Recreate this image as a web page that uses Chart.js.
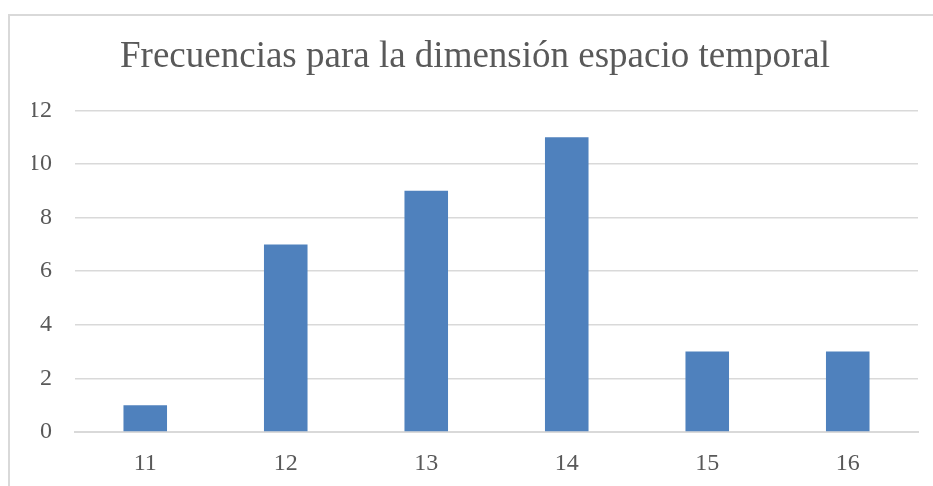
<!DOCTYPE html>
<html>
<head>
<meta charset="utf-8">
<script src="https://cdn.jsdelivr.net/npm/chart.js@4/dist/chart.umd.min.js"></script>
<style>
  html, body { margin: 0; padding: 0; background: #fff; overflow: hidden; }
  #frame {
    position: absolute; left: 8px; top: 14px; width: 960px; height: 520px;
    border: 2px solid #d9d9d9; box-sizing: border-box;
  }
  #wrap { position: absolute; left: 0; top: 0; width: 933px; height: 486px; }
</style>
</head>
<body>
<div id="frame"></div>
<div id="wrap"><canvas id="freqChart"></canvas></div>
<script>
// Frecuencias por puntaje
const categorias = ['11', '12', '13', '14', '15', '16'];
const frecuencias = [1, 7, 9, 11, 3, 3];
const ticksY = [0, 2, 4, 6, 8, 10, 12];

const gris = '#595959';
const lineaGrid = '#d9d9d9';
const serif = '"Liberation Serif", "Times New Roman", serif';

document.addEventListener('DOMContentLoaded', function() {
    const ctx = document.getElementById('freqChart');
    new Chart(ctx, {
        type: 'bar',
        data: {
            labels: categorias,
            datasets: [{
                label: 'Frecuencia',
                data: frecuencias,
                backgroundColor: '#4f81bd',
                categoryPercentage: 1,
                barPercentage: 0.31
            }]
        },
        options: {
            responsive: true,
            maintainAspectRatio: false,
            animation: false,
            // el padding izquierdo desplaza el centro del título hacia la derecha
            layout: { padding: { left: 32, right: 15, top: 0, bottom: 0 } },
            plugins: {
                legend: { display: false },
                tooltip: { enabled: false },
                title: {
                    display: true,
                    text: 'Frecuencias para la dimensión espacio temporal',
                    color: gris,
                    font: { family: serif, size: 37, weight: 'normal' },
                    padding: { top: 35, bottom: 31 }
                }
            },
            scales: {
                y: {
                    min: 0,
                    max: 12,
                    afterBuildTicks: axis => { axis.ticks = ticksY.map(v => ({ value: v })); },
                    afterFit: axis => { axis.width = 43; },
                    ticks: { color: gris, padding: 23, font: { family: serif, size: 24 } },
                    grid: { color: lineaGrid, lineWidth: 1.5, drawTicks: false },
                    border: { display: false }
                },
                x: {
                    afterFit: axis => { axis.height = 54; },
                    ticks: { color: gris, padding: 17, font: { family: serif, size: 24 } },
                    grid: { display: false, drawTicks: false },
                    border: { color: lineaGrid, width: 2 }
                }
            }
        }
    });
});
</script>
</body>
</html>
